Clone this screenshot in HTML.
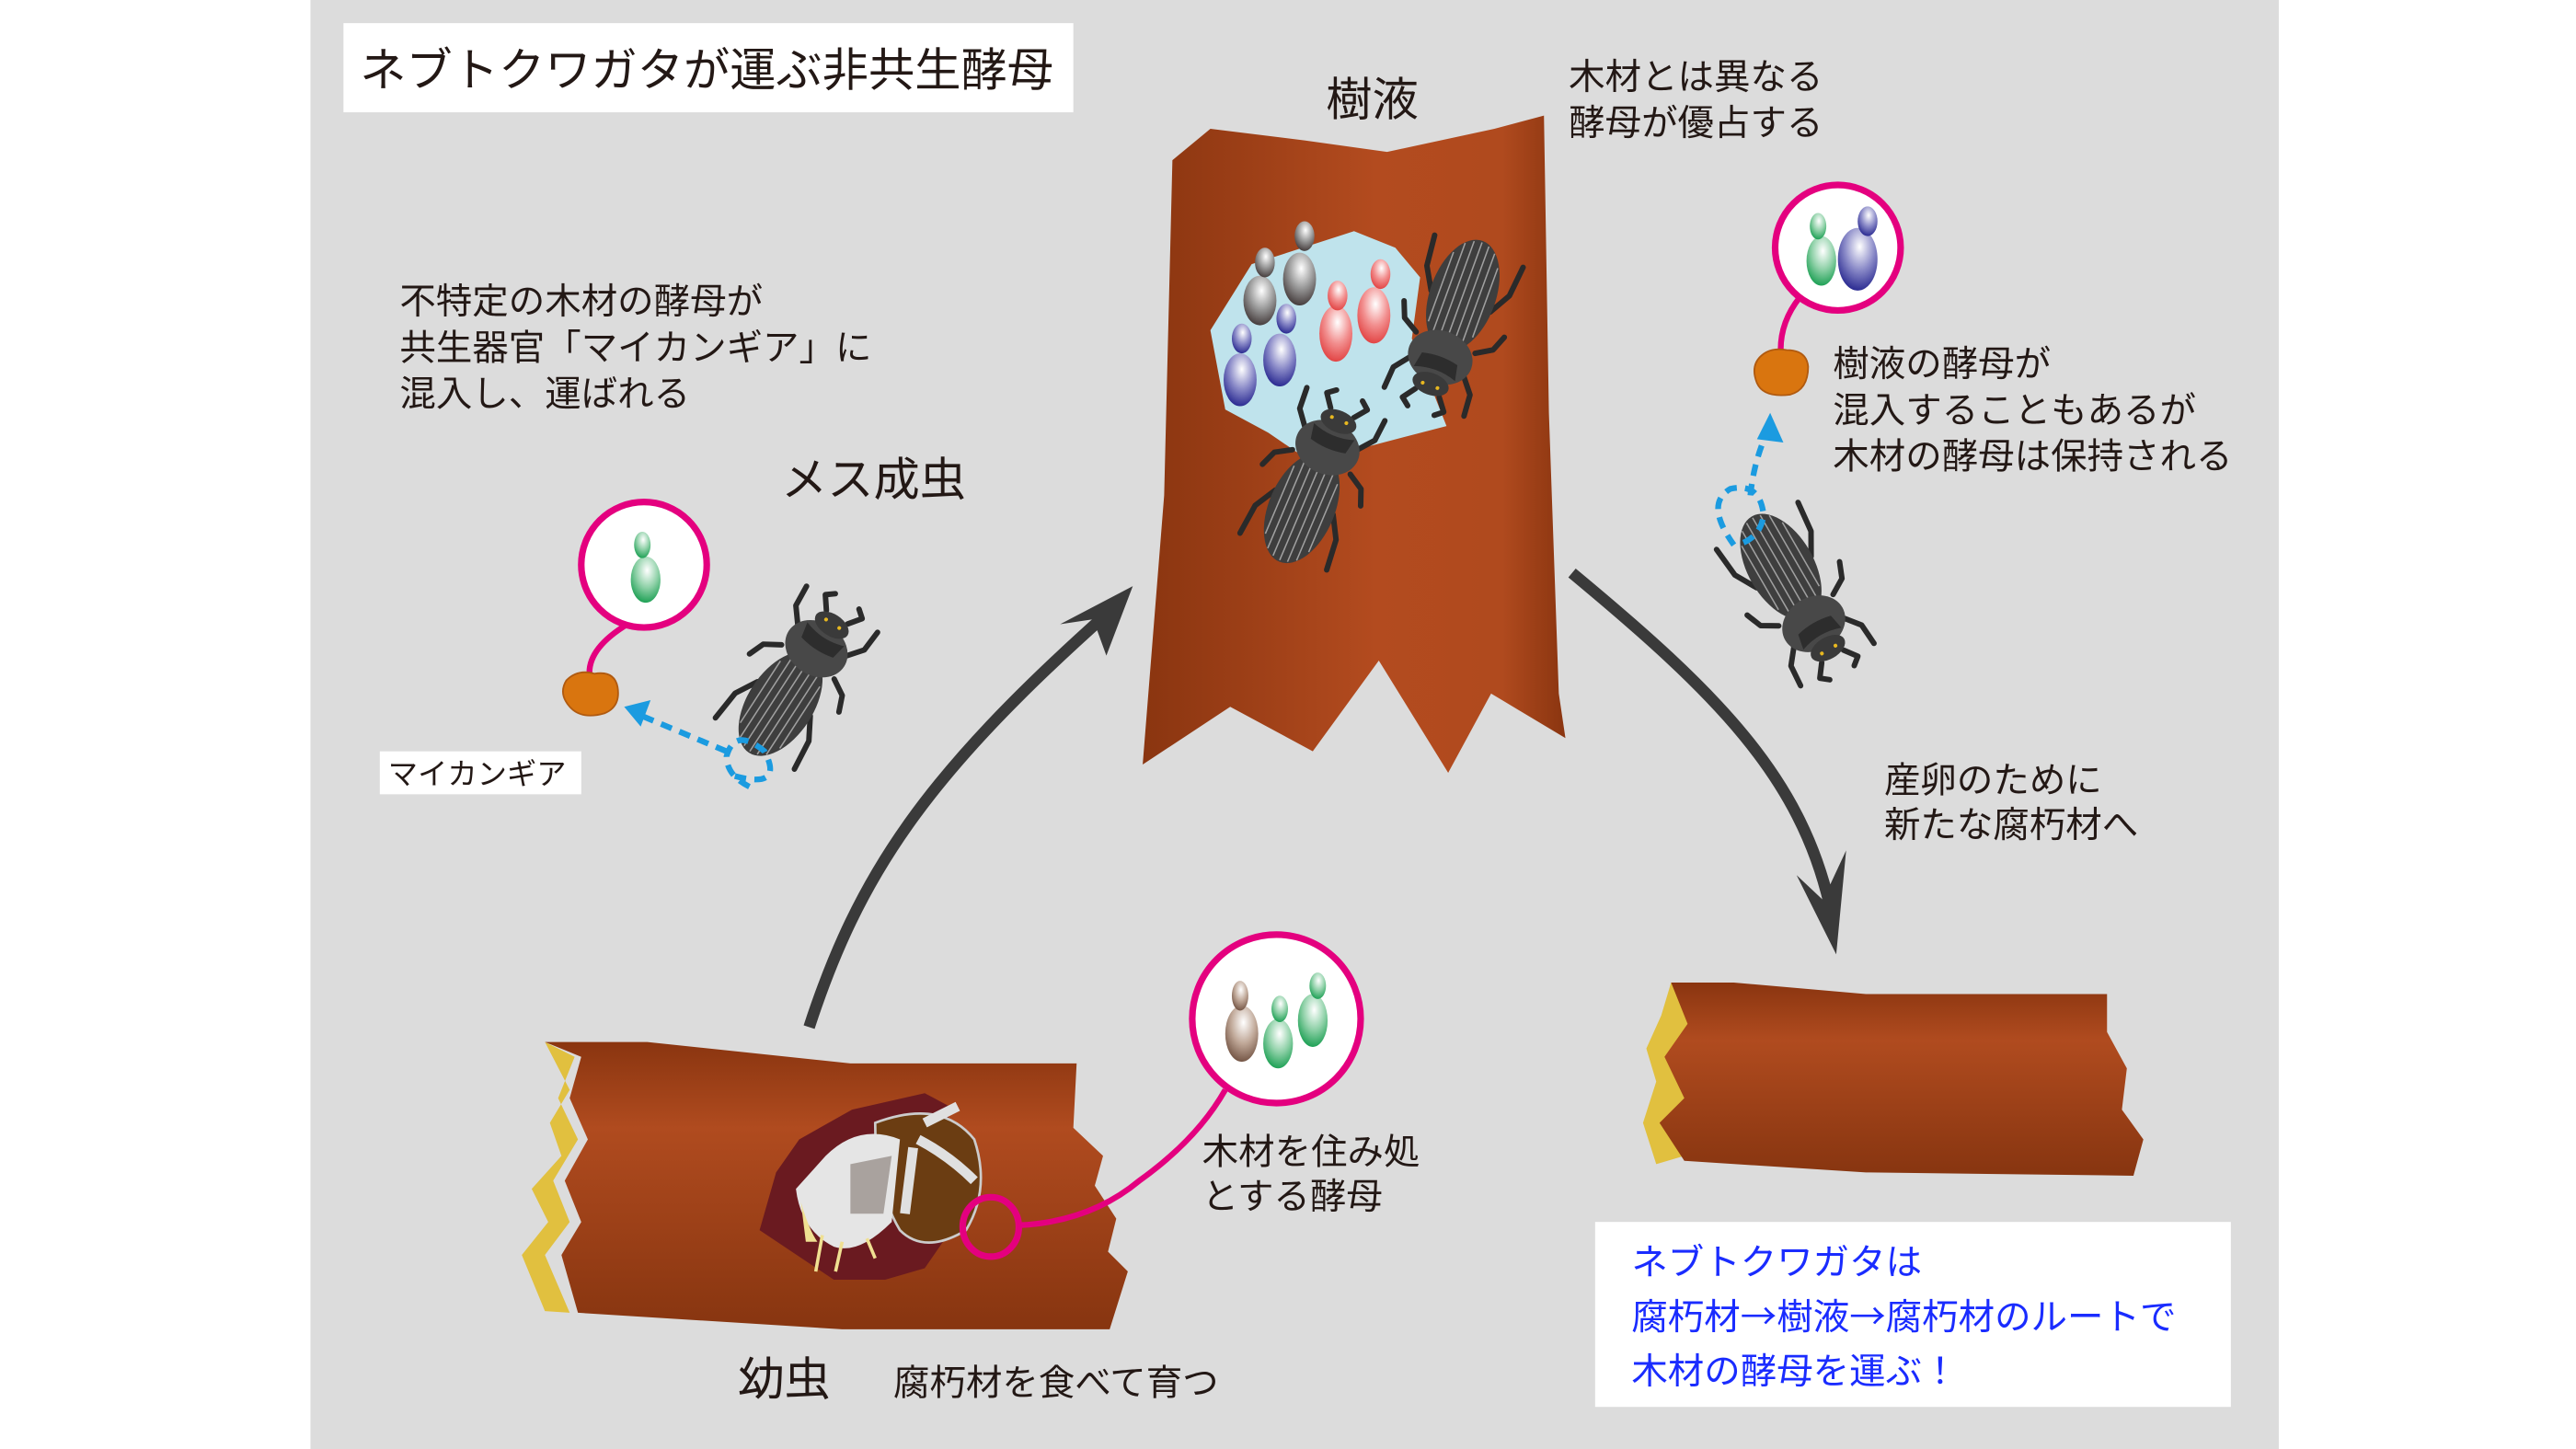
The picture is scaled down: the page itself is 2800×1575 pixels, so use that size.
<!DOCTYPE html>
<html><head><meta charset="utf-8">
<style>
html,body{margin:0;padding:0;background:#fff;}
svg{display:block;}
text{font-family:"Liberation Sans","Noto Sans CJK JP",sans-serif;fill:#231815;}
</style></head>
<body>
<svg width="2800" height="1575" viewBox="0 0 1560 877.5" xmlns="http://www.w3.org/2000/svg">
<defs>
<linearGradient id="trunk" x1="0" x2="1" y1="0" y2="0">
<stop offset="0" stop-color="#8a3510"/><stop offset="0.55" stop-color="#b34b1f"/><stop offset="0.85" stop-color="#b04a1e"/><stop offset="1" stop-color="#8a3510"/></linearGradient>
<linearGradient id="log" x1="0" x2="0" y1="0" y2="1">
<stop offset="0" stop-color="#8a3510"/><stop offset="0.3" stop-color="#b04b1f"/><stop offset="1" stop-color="#873510"/></linearGradient>
<radialGradient id="gGray" cx="0.55" cy="0.3" r="0.75"><stop offset="0" stop-color="#fff"/><stop offset="0.5" stop-color="#999"/><stop offset="1" stop-color="#3a3030"/></radialGradient>
<radialGradient id="gBlue" cx="0.55" cy="0.3" r="0.75"><stop offset="0" stop-color="#fff"/><stop offset="0.5" stop-color="#8a8ac8"/><stop offset="1" stop-color="#1e1e8a"/></radialGradient>
<radialGradient id="gRed" cx="0.55" cy="0.3" r="0.75"><stop offset="0" stop-color="#fff"/><stop offset="0.5" stop-color="#f29090"/><stop offset="1" stop-color="#e03a3a"/></radialGradient>
<radialGradient id="gGreen" cx="0.55" cy="0.3" r="0.75"><stop offset="0" stop-color="#fff"/><stop offset="0.5" stop-color="#8fd1a8"/><stop offset="1" stop-color="#0f9a4a"/></radialGradient>
<radialGradient id="gBrown" cx="0.55" cy="0.3" r="0.75"><stop offset="0" stop-color="#fff"/><stop offset="0.5" stop-color="#c0a898"/><stop offset="1" stop-color="#6a4a3a"/></radialGradient>
<g id="beetle">
<g stroke="#2a2a2a" stroke-width="3.5" fill="none" stroke-linecap="round" stroke-linejoin="round">
<path d="M-18,-30 L-26,-40 L-27,-54"/><path d="M18,-30 L26,-40 L27,-54"/>
<path d="M-20,-14 L-30,-8 L-34,2"/><path d="M20,-14 L30,-8 L34,2"/>
<path d="M-20,14 L-28,28 L-30,48"/><path d="M20,14 L28,28 L30,48"/>
<path d="M-8,-48 L-14,-56 L-9,-60"/><path d="M8,-48 L14,-56 L9,-60"/>
</g>
<ellipse cx="0" cy="18" rx="21" ry="37" fill="#3e3e3e"/>
<g stroke="#a0a0a0" stroke-width="0.9" fill="none">
<path d="M-15,-5 L-15,42"/><path d="M-10,-12 L-10,50"/><path d="M-5,-14 L-5,53"/><path d="M0,-14 L0,54"/><path d="M5,-14 L5,53"/><path d="M10,-12 L10,50"/><path d="M15,-5 L15,42"/>
</g>
<ellipse cx="0" cy="-24" rx="21" ry="17" fill="#484848"/>
<path d="M-14,-35 Q0,-30 14,-35 L12,-25 Q0,-22 -12,-25 Z" fill="#2d2d2d"/>
<ellipse cx="0" cy="-42" rx="12" ry="7" fill="#3a3a3a"/>
<circle cx="-5" cy="-43" r="1.2" fill="#e8b820"/><circle cx="5" cy="-43" r="1.2" fill="#e8b820"/>
</g>
</defs>
<rect x="0" y="0" width="1560" height="877.5" fill="#fff"/>
<rect x="188" y="0" width="1192" height="877.5" fill="#dcdcdc"/>

<rect x="208" y="14" width="442" height="54" fill="#fff"/>
<text x="218" y="52" font-size="28">ネブトクワガタが運ぶ非共生酵母</text>

<polygon points="710,97 733,78 790,85 840,92 905,78 935,70 938,250 944,420 948,447 903,420 877,468 835,400 795,455 745,428 692,463 705,300" fill="url(#trunk)"/>
<polygon points="733,200 758,160 820,140 845,150 860,168 855,205 876,258 830,270 790,277 768,262 742,248" fill="#bfe3ec"/>
<ellipse cx="763" cy="182" rx="10" ry="15" fill="url(#gGray)"/><ellipse cx="766" cy="159" rx="6" ry="9" fill="url(#gGray)"/>
<ellipse cx="787" cy="169" rx="10" ry="16" fill="url(#gGray)"/><ellipse cx="790" cy="143" rx="6" ry="9" fill="url(#gGray)"/>
<ellipse cx="751" cy="230" rx="10" ry="16" fill="url(#gBlue)"/><ellipse cx="752" cy="205" rx="6" ry="9" fill="url(#gBlue)"/>
<ellipse cx="775" cy="218" rx="10" ry="16" fill="url(#gBlue)"/><ellipse cx="779" cy="193" rx="6" ry="9" fill="url(#gBlue)"/>
<ellipse cx="809" cy="202" rx="10" ry="17" fill="url(#gRed)"/><ellipse cx="810" cy="179" rx="6" ry="9" fill="url(#gRed)"/>
<ellipse cx="832" cy="191" rx="10" ry="17" fill="url(#gRed)"/><ellipse cx="836" cy="166" rx="6" ry="9" fill="url(#gRed)"/>
<use href="#beetle" transform="translate(880,195) rotate(200) scale(0.95)"/>
<use href="#beetle" transform="translate(795,292) rotate(23) scale(0.95)"/>

<text x="803" y="70" font-size="28">樹液</text>
<text x="950" y="54" font-size="22">木材とは異なる</text>
<text x="950" y="82" font-size="22">酵母が優占する</text>

<text x="242" y="190" font-size="22">不特定の木材の酵母が</text>
<text x="242" y="218" font-size="22">共生器官「マイカンギア」に</text>
<text x="242" y="246" font-size="22">混入し、運ばれる</text>
<text x="473" y="300" font-size="28">メス成虫</text>

<path d="M380,378 Q352,395 358,414" stroke="#e4007f" stroke-width="3.5" fill="none"/>
<path d="M343,412 Q350,405 360,408 Q372,406 374,416 Q376,428 366,432 Q352,436 345,428 Q338,420 343,412 Z" fill="#d9750f" stroke="#b05a10" stroke-width="1"/>
<circle cx="390" cy="342" r="38" fill="#fff" stroke="#e4007f" stroke-width="4"/>
<ellipse cx="391" cy="351" rx="9" ry="14" fill="url(#gGreen)"/><ellipse cx="389" cy="330" rx="5" ry="8" fill="url(#gGreen)"/>
<use href="#beetle" transform="translate(482,412) rotate(33) scale(0.95)"/>
<path d="M445,470 Q475,478 463,455 Q445,440 440,458 Q440,470 455,477 M440,455 L385,432" stroke="#1b9be0" stroke-width="3.5" fill="none" stroke-dasharray="7,5"/>
<polygon points="378,428 394,424 388,440" fill="#1b9be0"/>
<rect x="230" y="455" width="122" height="26" fill="#fff"/>
<text x="235" y="475" font-size="18">マイカンギア</text>

<path d="M1090,180 Q1074,200 1080,225" stroke="#e4007f" stroke-width="3.5" fill="none"/>
<path d="M1066,216 Q1072,210 1082,212 Q1094,212 1095,222 Q1095,236 1084,239 Q1068,241 1064,232 Q1060,222 1066,216 Z" fill="#d9750f" stroke="#b05a10" stroke-width="1"/>
<circle cx="1113" cy="150" r="38" fill="#fff" stroke="#e4007f" stroke-width="4"/>
<ellipse cx="1103" cy="158" rx="9" ry="15" fill="url(#gGreen)"/><ellipse cx="1101" cy="137" rx="5" ry="8" fill="url(#gGreen)"/>
<ellipse cx="1125" cy="157" rx="12" ry="19" fill="url(#gBlue)"/><ellipse cx="1131" cy="134" rx="6" ry="9" fill="url(#gBlue)"/>
<text x="1110" y="228" font-size="22">樹液の酵母が</text>
<text x="1110" y="256" font-size="22">混入することもあるが</text>
<text x="1110" y="284" font-size="22">木材の酵母は保持される</text>
<use href="#beetle" transform="translate(1087,358) rotate(150) scale(0.95)"/>
<path d="M1050,330 Q1032,305 1048,296 Q1066,292 1068,312 Q1066,326 1052,330 M1060,300 Q1062,280 1070,262" stroke="#1b9be0" stroke-width="3.5" fill="none" stroke-dasharray="7,5"/>
<polygon points="1072,250 1080,268 1064,266" fill="#1b9be0"/>

<path d="M490,622 C520,530 560,470 670,372" stroke="#3a3a3a" stroke-width="7" fill="none"/>
<polygon points="686,355 642,378 662,375 670,397" fill="#3a3a3a"/>
<path d="M952,347 C1040,420 1090,470 1108,548" stroke="#3a3a3a" stroke-width="7" fill="none"/>
<polygon points="1112,578 1088,530 1104,545 1118,515" fill="#3a3a3a"/>

<text x="1141" y="480" font-size="22">産卵のために</text>
<text x="1141" y="507" font-size="22">新たな腐朽材へ</text>

<polygon points="330,631 345,660 333,680 340,700 322,720 332,740 316,760 330,794 345,795 330,760 345,740 335,715 350,690 338,665 348,640" fill="#e1c03f"/>
<polygon points="330,631 392,631 515,644 652,644 650,683 668,700 663,718 676,738 671,758 683,770 672,805 510,805 350,795 340,760 352,740 342,715 356,690 345,665 352,640" fill="url(#log)"/>
<polygon points="484,690 516,672 560,662 575,670 570,720 578,742 560,768 536,775 505,775 460,745 470,710" fill="#6a1a20"/>
<path d="M530,680 Q570,665 590,690 Q600,720 585,745 Q560,760 545,745 Q530,720 530,680 Z" fill="#6b3d12" stroke="#ccc" stroke-width="1.5"/>
<path d="M500,700 Q520,680 545,690 L540,740 Q520,760 505,755 Q485,745 482,720 Z" fill="#e5e5e5"/>
<path d="M515,705 L540,700 L535,735 L515,735 Z" fill="#a9a29e"/>
<path d="M560,680 L580,670 M556,690 Q575,700 590,715 M553,695 L548,735" stroke="#e0e0e0" stroke-width="6" fill="none"/>
<path d="M485,728 Q490,745 495,752 L488,752 Z" fill="#f0e092"/>
<path d="M498,748 L494,770 M510,752 L506,770 M525,750 L530,762" stroke="#f0e092" stroke-width="2"/>
<ellipse cx="600" cy="743" rx="17" ry="18" fill="none" stroke="#e4007f" stroke-width="4"/>
<path d="M617,742 Q660,740 690,715 Q725,690 742,660" stroke="#e4007f" stroke-width="3.5" fill="none"/>
<circle cx="773" cy="617" r="51" fill="#fff" stroke="#e4007f" stroke-width="4"/>
<ellipse cx="752" cy="626" rx="10" ry="17" fill="url(#gBrown)"/><ellipse cx="751" cy="603" rx="5" ry="9" fill="url(#gBrown)"/>
<ellipse cx="774" cy="632" rx="9" ry="15" fill="url(#gGreen)"/><ellipse cx="775" cy="611" rx="5" ry="8" fill="url(#gGreen)"/>
<ellipse cx="795" cy="618" rx="9" ry="16" fill="url(#gGreen)"/><ellipse cx="798" cy="597" rx="5" ry="8" fill="url(#gGreen)"/>
<text x="728" y="705" font-size="22">木材を住み処</text>
<text x="728" y="732" font-size="22">とする酵母</text>
<text x="447" y="845" font-size="28">幼虫</text>
<text x="541" y="845" font-size="22">腐朽材を食べて育つ</text>

<polygon points="1012,595 1030,620 1018,640 1024,660 1010,680 1020,700 1003,705 995,680 1003,655 997,635 1006,615" fill="#e1c03f"/>
<polygon points="1012,595 1050,595 1130,602 1276,602 1276,625 1288,647 1285,672 1298,690 1292,712 1130,710 1020,703 1005,680 1020,665 1008,640 1022,620" fill="url(#log)"/>

<rect x="966" y="740" width="385" height="112" fill="#fff"/>
<text x="988" y="772" font-size="22" style="fill:#1a2cff">ネブトクワガタは</text>
<text x="988" y="805" font-size="22" style="fill:#1a2cff">腐朽材<tspan style="font-family:'Noto Sans CJK JP',sans-serif;fill:#1a2cff">→</tspan>樹液<tspan style="font-family:'Noto Sans CJK JP',sans-serif;fill:#1a2cff">→</tspan>腐朽材のルートで</text>
<text x="988" y="838" font-size="22" style="fill:#1a2cff">木材の酵母を運ぶ！</text>
</svg>
</body></html>
